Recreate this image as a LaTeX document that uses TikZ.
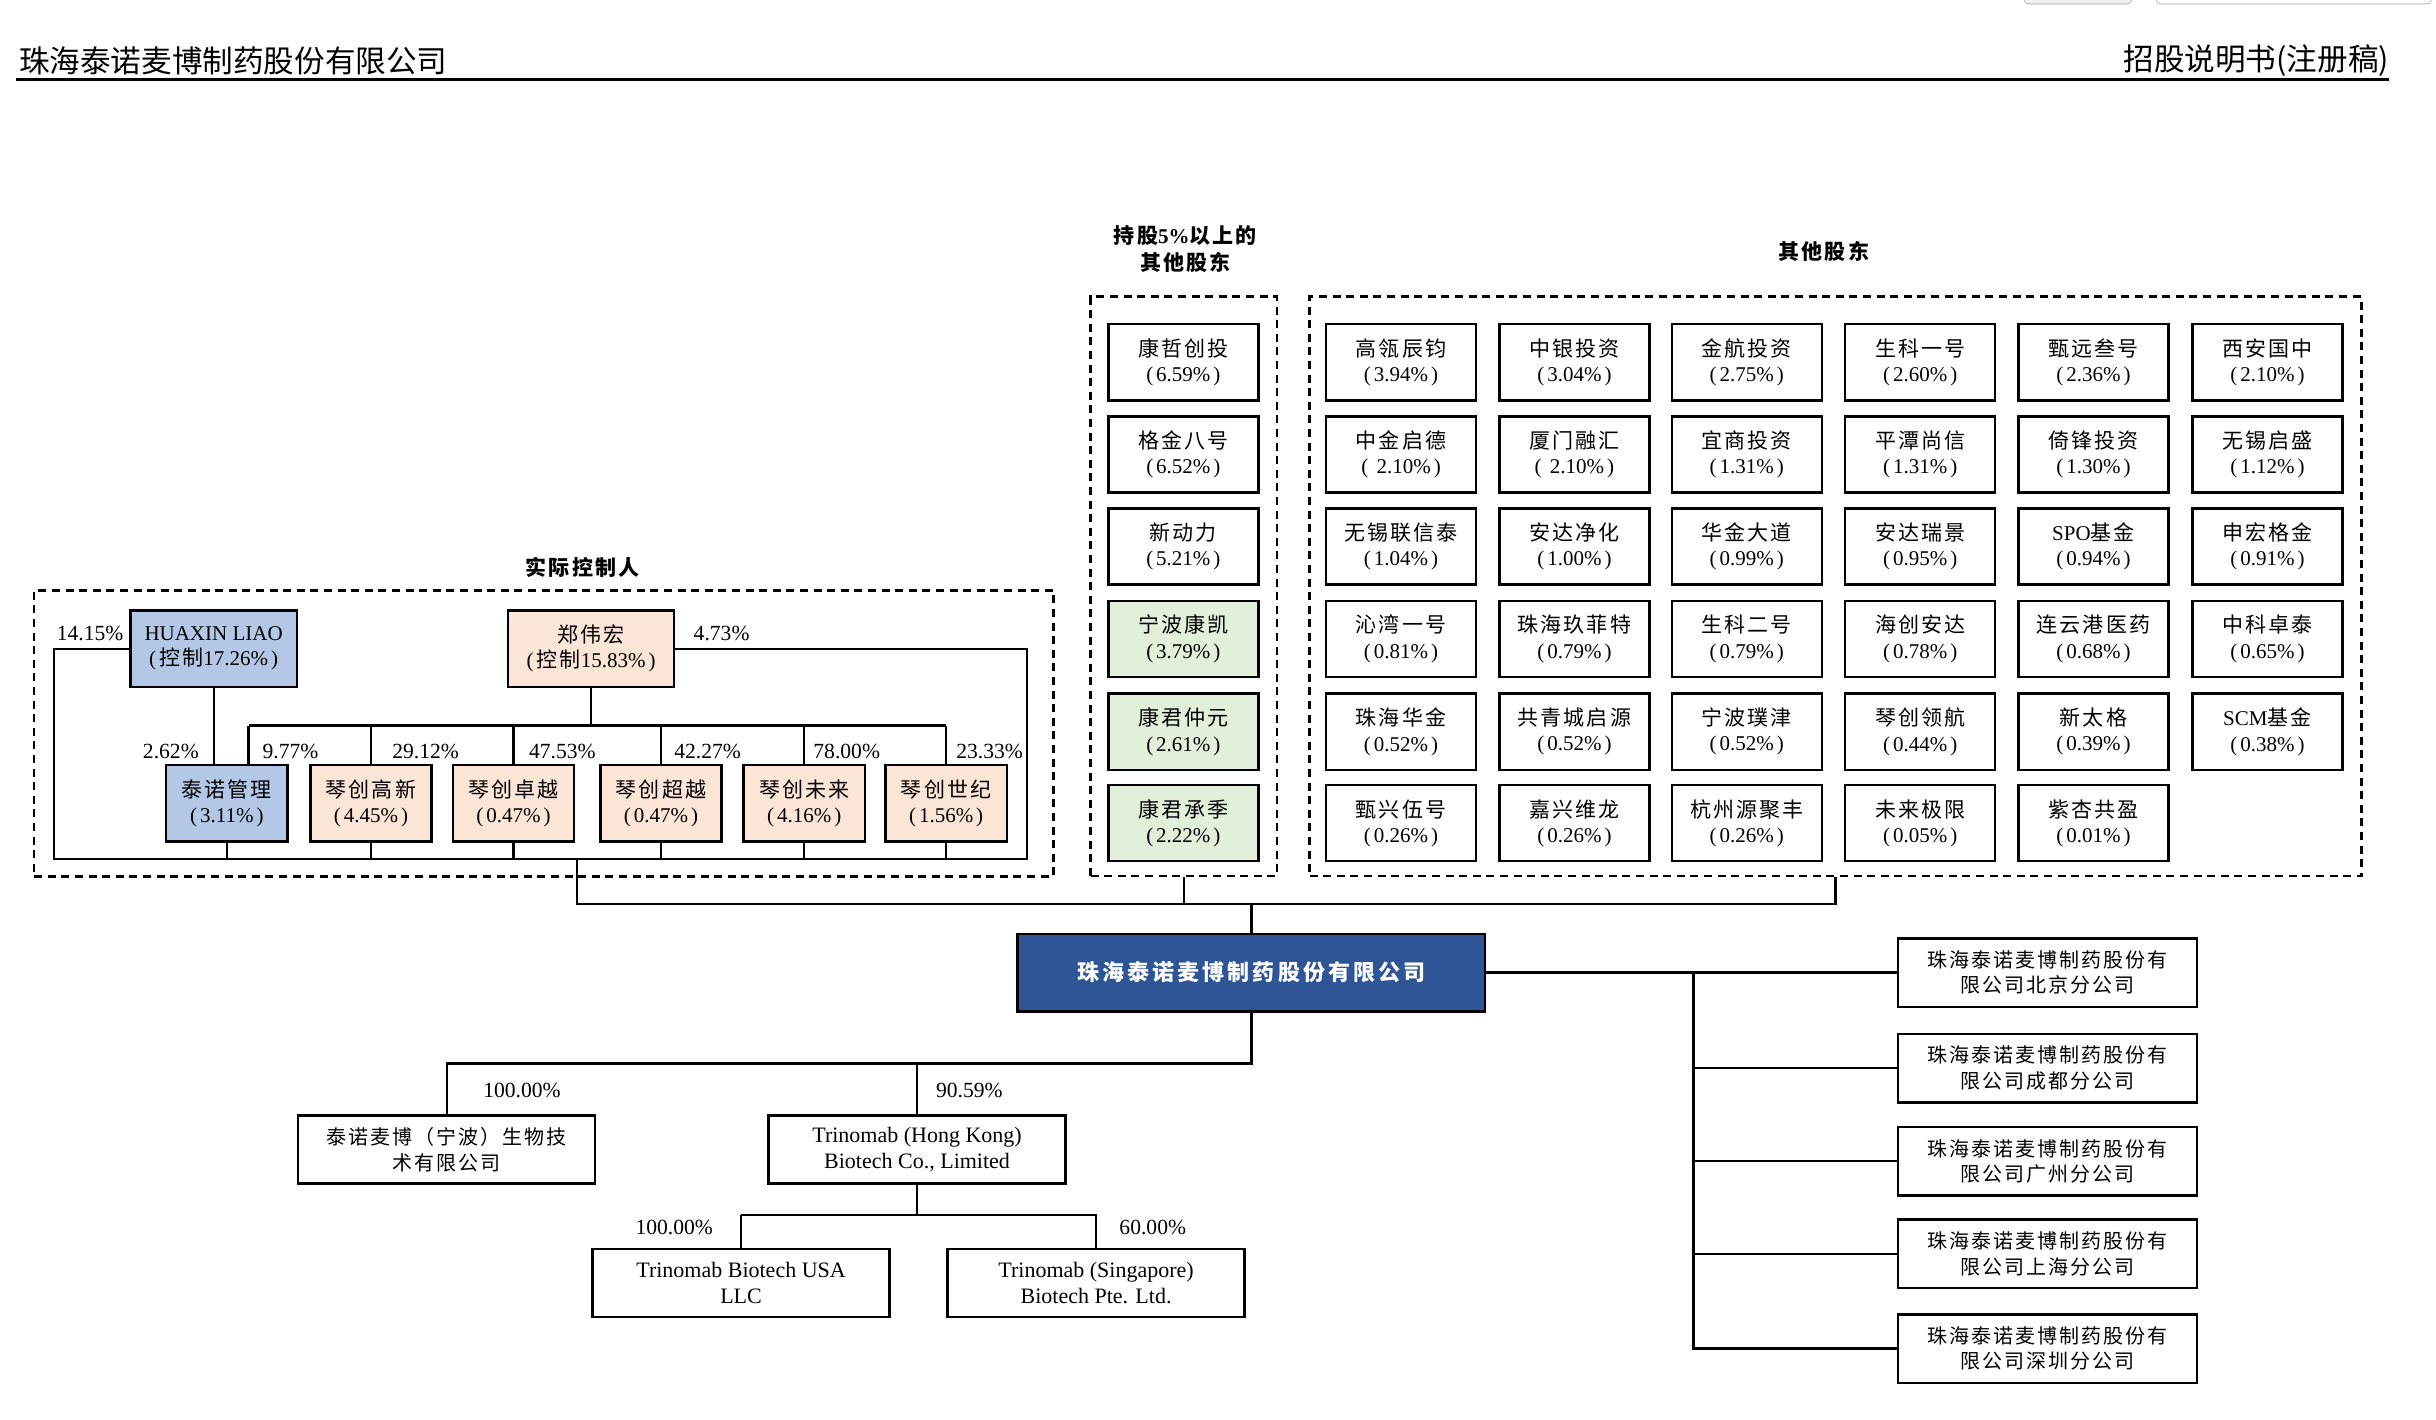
\documentclass[tikz,border=0pt]{standalone}
\usepackage{fontspec}
\setmainfont{Liberation Serif}
\newfontfamily\cjk[LetterSpace=10]{Noto Sans CJK SC}
\newfontfamily\cjkh{Noto Sans CJK SC}
\definecolor{hxblue}{HTML}{B4C7E7}
\definecolor{peach}{HTML}{FBE5D6}
\definecolor{lgreen}{HTML}{E2EFDA}
\definecolor{mainblue}{HTML}{2F5597}
\newcommand\pcx[1]{(\kern1.5pt#1\%\kern1.5pt)}
\newcommand\two[2]{{\cjk #1}\\\pcx{#2}}
\newcommand\osh[5]{\node[sh] (#1) at (#2,#3) {\two{#4}{#5}};}
\def\ColA{901.8}\def\ColB{1013.4}\def\ColC{1124.4}\def\ColD{1236}\def\ColE{1347.5}\def\ColF{1459.5}
\def\RowA{233.2}\def\RowB{292.5}\def\RowC{351.8}\def\RowD{411.2}\def\RowE{471}\def\RowF{529.8}
\begin{document}
\begin{tikzpicture}[x=0.7768pt,y=-0.7768pt,
  ln/.style={line width=1.1pt},
  bx/.style={draw,line width=1.2pt,inner sep=0pt,align=center,font=\fontsize{10.5}{12.6}\selectfont},
  sh/.style={bx,minimum width=74.96pt,minimum height=38.06pt},
  kid/.style={bx,minimum width=60.6pt,minimum height=38.4pt,fill=peach},
  ownbox/.style={bx,minimum width=83.1pt,minimum height=38.1pt},
  subbox/.style={bx,minimum width=148.4pt,minimum height=34pt,font=\fontsize{11}{12.8}\selectfont},
  brbox/.style={bx,minimum width=149.5pt,minimum height=34.2pt,font=\fontsize{10}{12.8}\selectfont\cjk},
  grp/.style={draw,line width=1.3pt,dash pattern=on 4pt off 2.8pt,inner sep=0pt},
  pl/.style={inner sep=0pt,font=\fontsize{10.8}{12}\selectfont},
  ttl/.style={inner sep=0pt,align=center,font=\fontsize{10.5}{13.5}\selectfont\cjk\bfseries}
]
\useasboundingbox (0,0) rectangle (1568,914);
% top window artefacts
\draw[gray!55,fill=gray!12,rounded corners=2pt] (1303,-10) rectangle (1372,2.5);
\draw[gray!55,rounded corners=2pt] (1388,-10) rectangle (1565,2.5);
% header
\node[anchor=west,inner sep=0pt,font=\fontsize{15.3}{16}\selectfont\cjkh] (hl) at (12,39) {珠海泰诺麦博制药股份有限公司};
\node[anchor=east,inner sep=0pt,font=\fontsize{15.3}{16}\selectfont\cjkh] (hr) at (1538,39) {招股说明书(注册稿)};
\coordinate (rl) at (10,51); \coordinate (rr) at (1538,51);
\draw[line width=1.5pt] (rl) -- (rr);

% group frames and titles
\node[grp,minimum width=509.6pt,minimum height=142.9pt] (ctrl) at (350,472) {};
\node[grp,minimum width=93.2pt,minimum height=289.7pt] (big) at (762,377.5) {};
\node[grp,minimum width=525.9pt,minimum height=289.7pt] (oth) at (1181.5,377.5) {};
\node[ttl] (t1) at (375,365) {实际控制人};
\node[ttl] (t2) at (763,160) {持股{\rmfamily\bfseries 5\%}以上的\\其他股东};
\node[ttl] (t3) at (1174,162) {其他股东};

% actual controllers
\node[ownbox,fill=hxblue] (hx) at (137.5,417.5) {HUAXIN LIAO\\(\kern1.5pt{\cjk 控制}17.26\%\kern1.5pt)};
\node[ownbox,fill=peach] (zw) at (380.5,417.5) {{\cjk 郑伟宏}\\(\kern1.5pt{\cjk 控制}15.83\%\kern1.5pt)};
\node[kid,fill=hxblue] (tn) at (146,517) {\two{泰诺管理}{3.11}};
\node[kid] (gx) at (238.75,517) {\two{琴创高新}{4.45}};
\node[kid] (zy) at (330.5,517) {\two{琴创卓越}{0.47}};
\node[kid] (cy) at (425.5,517) {\two{琴创超越}{0.47}};
\node[kid] (wl) at (517.7,517) {\two{琴创未来}{4.16}};
\node[kid] (sj) at (609,517) {\two{琴创世纪}{1.56}};

\coordinate (lb) at (35,553); \coordinate (rb) at (661,553);
\draw[ln] (hx.west) -| (lb) -- (rb) |- (zw.east);
\draw[ln] (hx.south) -- (hx.south |- tn.north);
\coordinate (busL) at (160,467);
\draw[ln] (zw.south) -- (zw.south |- busL);
\draw[ln] (busL) -- (busL -| sj.north);
\draw[ln] (busL) -- (busL |- tn.north);
\foreach \n in {gx,zy,cy,wl,sj} \draw[ln] (\n.north |- busL) -- (\n.north);
\foreach \n in {tn,gx,zy,cy,wl,sj} \draw[ln] (\n.south) -- (\n.south |- lb);

\node[pl] (p1) at (58,408) {14.15\%};
\node[pl] (p2) at (464.5,408) {4.73\%};
\node[pl] (p3) at (110,484) {2.62\%};
\node[pl] (p4) at (187,484) {9.77\%};
\node[pl] (p5) at (274,484) {29.12\%};
\node[pl] (p6) at (362,484) {47.53\%};
\node[pl] (p7) at (455.5,484) {42.27\%};
\node[pl] (p8) at (545,484) {78.00\%};
\node[pl] (p9) at (637,484) {23.33\%};

% shareholders above 5%
\node[sh] (k1) at (761.7,\RowA) {\two{康哲创投}{6.59}};
\node[sh] (k2) at (761.7,\RowB) {\two{格金八号}{6.52}};
\node[sh] (k3) at (761.7,\RowC) {\two{新动力}{5.21}};
\node[sh,fill=lgreen] (k4) at (761.7,\RowD) {\two{宁波康凯}{3.79}};
\node[sh,fill=lgreen] (k5) at (761.7,\RowE) {\two{康君仲元}{2.61}};
\node[sh,fill=lgreen] (k6) at (761.7,\RowF) {\two{康君承季}{2.22}};

% other shareholders
\osh{o11}{\ColA}{\RowA}{高瓴辰钧}{3.94}
\osh{o12}{\ColB}{\RowA}{中银投资}{3.04}
\osh{o13}{\ColC}{\RowA}{金航投资}{2.75}
\osh{o14}{\ColD}{\RowA}{生科一号}{2.60}
\osh{o15}{\ColE}{\RowA}{甄远叁号}{2.36}
\osh{o16}{\ColF}{\RowA}{西安国中}{2.10}
\osh{o21}{\ColA}{\RowB}{中金启德}{\ 2.10}
\osh{o22}{\ColB}{\RowB}{厦门融汇}{\ 2.10}
\osh{o23}{\ColC}{\RowB}{宜商投资}{1.31}
\osh{o24}{\ColD}{\RowB}{平潭尚信}{1.31}
\osh{o25}{\ColE}{\RowB}{倚锋投资}{1.30}
\osh{o26}{\ColF}{\RowB}{无锡启盛}{1.12}
\osh{o31}{\ColA}{\RowC}{无锡联信泰}{1.04}
\osh{o32}{\ColB}{\RowC}{安达净化}{1.00}
\osh{o33}{\ColC}{\RowC}{华金大道}{0.99}
\osh{o34}{\ColD}{\RowC}{安达瑞景}{0.95}
\osh{o35}{\ColE}{\RowC}{{\rmfamily SPO}基金}{0.94}
\osh{o36}{\ColF}{\RowC}{申宏格金}{0.91}
\osh{o41}{\ColA}{\RowD}{沁湾一号}{0.81}
\osh{o42}{\ColB}{\RowD}{珠海玖菲特}{0.79}
\osh{o43}{\ColC}{\RowD}{生科二号}{0.79}
\osh{o44}{\ColD}{\RowD}{海创安达}{0.78}
\osh{o45}{\ColE}{\RowD}{连云港医药}{0.68}
\osh{o46}{\ColF}{\RowD}{中科卓泰}{0.65}
\osh{o51}{\ColA}{\RowE}{珠海华金}{0.52}
\osh{o52}{\ColB}{\RowE}{共青城启源}{0.52}
\osh{o53}{\ColC}{\RowE}{宁波璞津}{0.52}
\osh{o54}{\ColD}{\RowE}{琴创领航}{0.44}
\osh{o55}{\ColE}{\RowE}{新太格}{0.39}
\osh{o56}{\ColF}{\RowE}{{\rmfamily SCM}基金}{0.38}
\osh{o61}{\ColA}{\RowF}{甄兴伍号}{0.26}
\osh{o62}{\ColB}{\RowF}{嘉兴维龙}{0.26}
\osh{o63}{\ColC}{\RowF}{杭州源聚丰}{0.26}
\osh{o64}{\ColD}{\RowF}{未来极限}{0.05}
\osh{o65}{\ColE}{\RowF}{紫杏共盈}{0.01}

% main company
\node[bx,fill=mainblue,text=white,minimum width=233.8pt,minimum height=38.8pt,font=\fontsize{11}{13}\selectfont\cjk\bfseries\addfontfeature{LetterSpace=14}] (main) at (805.5,626) {珠海泰诺麦博制药股份有限公司};

\coordinate (j1) at (371.5,553);
\coordinate (h1) at (371.5,582);
\draw[ln] (j1) -- (h1) -- (h1 -| oth.south) -- (oth.south);
\draw[ln] (big.south) -- (big.south |- h1);
\draw[ln] (main.north) -- (main.north |- h1);

% branches
\node[brbox] (b1) at (1318,626) {珠海泰诺麦博制药股份有\\限公司北京分公司};
\node[brbox] (b2) at (1318,687.5) {珠海泰诺麦博制药股份有\\限公司成都分公司};
\node[brbox] (b3) at (1318,747.5) {珠海泰诺麦博制药股份有\\限公司广州分公司};
\node[brbox] (b4) at (1318,807) {珠海泰诺麦博制药股份有\\限公司上海分公司};
\node[brbox] (b5) at (1318,868) {珠海泰诺麦博制药股份有\\限公司深圳分公司};
\coordinate (vx) at (1090,626);
\draw[ln] (main.east) -- (b1.west);
\draw[ln] (vx) |- (b5.west);
\foreach \n in {b2,b3,b4} \draw[ln] (vx |- \n.west) -- (\n.west);

% subsidiaries
\node[subbox,font=\fontsize{10}{12.8}\selectfont\cjk] (nb) at (287.5,740) {泰诺麦博（宁波）生物技\\术有限公司};
\node[subbox] (hk) at (590.3,740) {Trinomab (Hong Kong)\\Biotech Co., Limited};
\node[subbox] (us) at (477,826) {Trinomab Biotech USA\\LLC};
\node[subbox] (sg) at (705.5,826) {Trinomab (Singapore)\\Biotech Pte. Ltd.};
\coordinate (d1) at (287.5,684.5);
\draw[ln] (main.south) |- (d1) -- (nb.north);
\draw[ln] (hk.north |- d1) -- (hk.north);
\coordinate (d2) at (477,782);
\draw[ln] (hk.south) -- (hk.south |- d2);
\draw[ln] (d2) -- (d2 -| sg.north) -- (sg.north);
\draw[ln] (d2) -- (us.north);
\node[pl] (q1) at (336,702) {100.00\%};
\node[pl] (q2) at (624,702) {90.59\%};
\node[pl] (q3) at (434,790) {100.00\%};
\node[pl] (q4) at (742,790) {60.00\%};
\end{tikzpicture}
\end{document}
